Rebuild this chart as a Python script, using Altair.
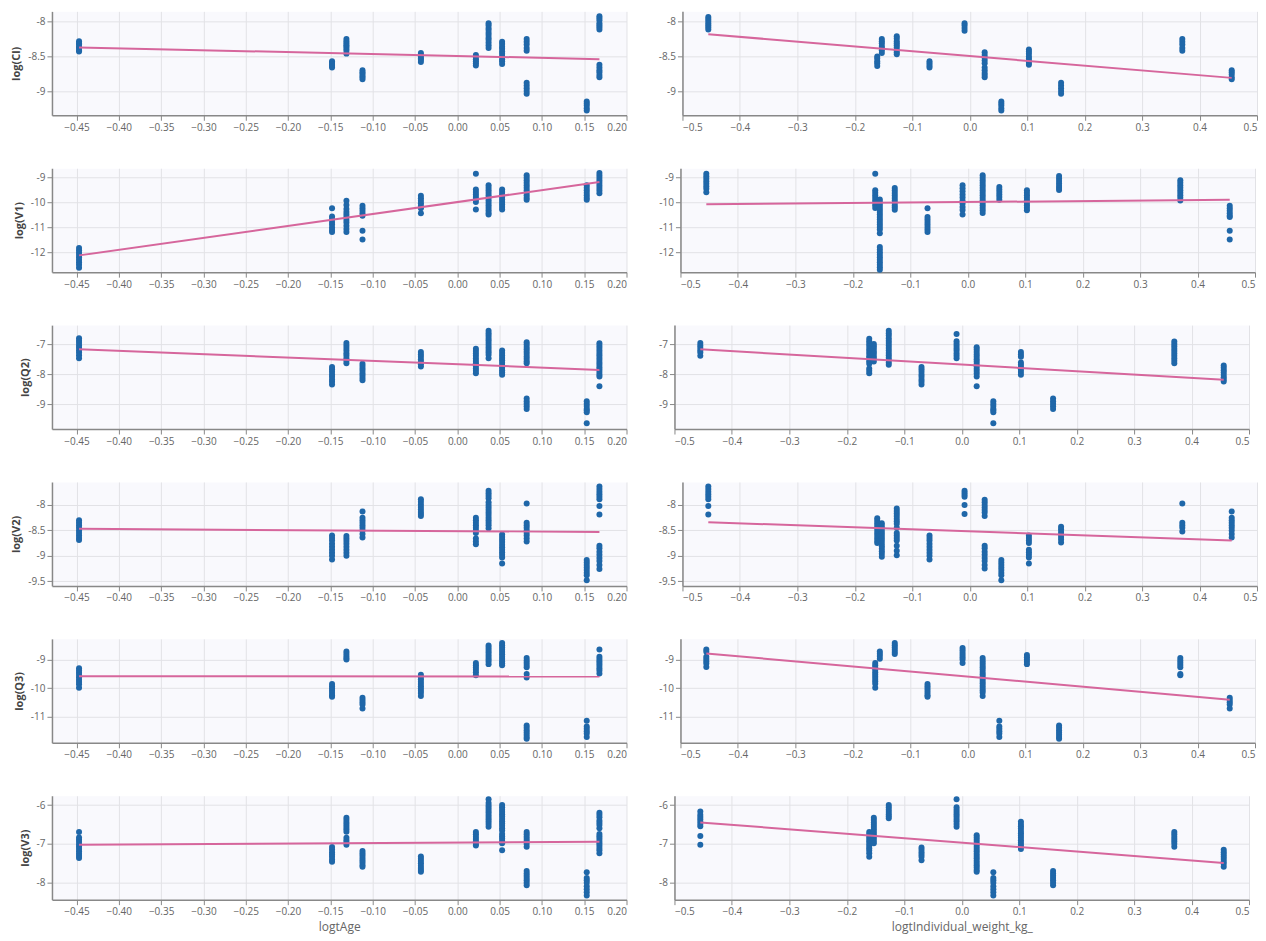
import altair as alt
import pandas as pd

# ---------------- axes ----------------
X_AGE_DOMAIN = [-0.479, 0.2]
X_WT_DOMAIN = [-0.5, 0.5]
X_AGE_TICKS = [-0.45, -0.40, -0.35, -0.30, -0.25, -0.20, -0.15, -0.10, -0.05, 0.0, 0.05, 0.10, 0.15, 0.20]
X_WT_TICKS = [-0.5, -0.4, -0.3, -0.2, -0.1, 0.0, 0.1, 0.2, 0.3, 0.4, 0.5]
X_TITLES = ["logtAge", "logtIndividual_weight_kg_"]

Y_TITLES = ["log(Cl)", "log(V1)", "log(Q2)", "log(V2)", "log(Q3)", "log(V3)"]
Y_DOMAINS = [[-9.35, -7.85], [-12.8, -8.65], [-9.83, -6.35], [-9.59, -7.55], [-11.9, -8.28], [-8.45, -5.76]]
Y_TICKS = [[-8, -8.5, -9], [-9, -10, -11, -12], [-7, -8, -9], [-8, -8.5, -9, -9.5], [-9, -10, -11], [-6, -7, -8]]

# ---------------- data: (x, [y values]) clusters ----------------
CL_AGE = [
    (-0.447, [-8.28, -8.31, -8.33, -8.36, -8.38, -8.41, -8.43]),
    (-0.148, [-8.57, -8.59, -8.62, -8.64, -8.66]),
    (-0.131, [-8.25, -8.28, -8.31, -8.34, -8.36, -8.39, -8.42, -8.46]),
    (-0.112, [-8.70, -8.73, -8.75, -8.78, -8.80, -8.83]),
    (-0.043, [-8.45, -8.48, -8.50, -8.53, -8.55, -8.58]),
    (0.022, [-8.48, -8.51, -8.54, -8.57, -8.60, -8.63]),
    (0.037, [-8.02, -8.05, -8.09, -8.12, -8.16, -8.19, -8.23, -8.26, -8.30, -8.34, -8.38]),
    (0.053, [-8.29, -8.32, -8.36, -8.39, -8.43, -8.46, -8.50, -8.54, -8.57, -8.61]),
    (0.082, [-8.25, -8.29, -8.33, -8.38, -8.42, -8.88, -8.92, -8.96, -9.00, -9.04]),
    (0.153, [-9.15, -9.18, -9.21, -9.25, -9.28]),
    (0.168, [-7.92, -7.95, -7.98, -8.02, -8.05, -8.08, -8.11, -8.62, -8.66, -8.70, -8.73, -8.77, -8.80]),
]
CL_WT = [
    (-0.455, [-7.93, -7.96, -7.99, -8.02, -8.05, -8.08, -8.11]),
    (-0.161, [-8.50, -8.53, -8.57, -8.60, -8.64]),
    (-0.153, [-8.25, -8.28, -8.31, -8.35, -8.38, -8.41, -8.45]),
    (-0.127, [-8.21, -8.24, -8.28, -8.31, -8.34, -8.37, -8.41, -8.44, -8.47]),
    (-0.070, [-8.57, -8.60, -8.63, -8.66]),
    (-0.009, [-8.02, -8.05, -8.09, -8.13]),
    (0.026, [-8.44, -8.48, -8.52, -8.56, -8.60, -8.66, -8.70, -8.74, -8.77, -8.80]),
    (0.055, [-9.15, -9.18, -9.21, -9.25, -9.28]),
    (0.103, [-8.40, -8.43, -8.46, -8.50, -8.53, -8.56, -8.59, -8.62]),
    (0.159, [-8.88, -8.92, -8.96, -9.00, -9.04]),
    (0.370, [-8.25, -8.29, -8.33, -8.38, -8.42]),
    (0.456, [-8.70, -8.73, -8.76, -8.80, -8.83]),
]
V1_AGE = [
    (-0.447, [-11.84, -11.93, -12.02, -12.11, -12.2, -12.3, -12.4, -12.5, -12.62]),
    (-0.148, [-10.25, -10.58, -10.68, -10.8, -10.9, -11.02, -11.12, -11.2]),
    (-0.131, [-9.95, -10.12, -10.28, -10.4, -10.5, -10.6, -10.72, -10.82, -10.95, -11.08, -11.2]),
    (-0.112, [-10.15, -10.25, -10.35, -10.45, -10.55, -11.15, -11.5]),
    (-0.043, [-9.75, -9.85, -9.95, -10.05, -10.15, -10.25, -10.45]),
    (0.022, [-8.87, -9.5, -9.6, -9.7, -9.8, -9.9, -10.0, -10.3]),
    (0.037, [-9.33, -9.43, -9.53, -9.63, -9.73, -9.83, -9.93, -10.03, -10.13, -10.23, -10.33, -10.43, -10.5]),
    (0.053, [-9.5, -9.6, -9.7, -9.8, -9.9, -10.0, -10.1, -10.2, -10.3]),
    (0.082, [-8.93, -9.03, -9.13, -9.23, -9.33, -9.43, -9.53, -9.63, -9.73, -9.83, -9.91]),
    (0.153, [-9.33, -9.43, -9.53, -9.63, -9.73, -9.83, -9.91]),
    (0.168, [-8.84, -8.94, -9.04, -9.14, -9.24, -9.34, -9.44, -9.54, -9.65]),
]
V1_WT = [
    (-0.455, [-8.87, -8.97, -9.07, -9.17, -9.27, -9.37, -9.47, -9.61]),
    (-0.161, [-8.87, -9.53, -9.63, -9.73, -9.83, -9.93, -10.03, -10.13, -10.24]),
    (-0.153, [-9.9, -10.0, -10.1, -10.2, -10.3, -10.4, -10.5, -10.6, -10.7, -10.8, -10.9, -11.0, -11.1, -11.25,
              -11.8, -11.9, -12.0, -12.1, -12.2, -12.3, -12.4, -12.5, -12.6, -12.7]),
    (-0.127, [-9.44, -9.54, -9.64, -9.74, -9.84, -9.94, -10.04, -10.14, -10.22, -10.31]),
    (-0.070, [-10.25, -10.6, -10.7, -10.8, -10.9, -11.0, -11.1, -11.2]),
    (-0.009, [-9.33, -9.45, -9.57, -9.7, -9.82, -9.95, -10.07, -10.2, -10.32, -10.5]),
    (0.026, [-8.93, -9.03, -9.13, -9.23, -9.33, -9.43, -9.53, -9.63, -9.73, -9.83, -9.93, -10.03, -10.13,
             -10.23, -10.33, -10.44]),
    (0.055, [-9.4, -9.5, -9.6, -9.7, -9.8, -9.91]),
    (0.103, [-9.53, -9.63, -9.73, -9.83, -9.93, -10.03, -10.13, -10.23, -10.33]),
    (0.159, [-8.96, -9.06, -9.16, -9.26, -9.36, -9.44, -9.52]),
    (0.370, [-9.13, -9.23, -9.33, -9.43, -9.53, -9.63, -9.73, -9.83, -9.94]),
    (0.456, [-10.15, -10.25, -10.35, -10.45, -10.55, -10.6, -11.15, -11.5]),
]
Q2_AGE = [
    (-0.447, [-6.79, -6.87, -6.95, -7.03, -7.11, -7.19, -7.27, -7.36, -7.46]),
    (-0.148, [-7.75, -7.83, -7.91, -8.0, -8.08, -8.17, -8.25, -8.34]),
    (-0.131, [-6.95, -7.03, -7.12, -7.2, -7.29, -7.37, -7.46, -7.54, -7.63]),
    (-0.112, [-7.64, -7.72, -7.8, -7.88, -7.96, -8.04, -8.12, -8.2]),
    (-0.043, [-7.25, -7.33, -7.41, -7.5, -7.58, -7.66, -7.74]),
    (0.022, [-7.14, -7.22, -7.3, -7.38, -7.47, -7.55, -7.63, -7.72, -7.8, -7.88, -7.96]),
    (0.037, [-6.54, -6.62, -6.7, -6.78, -6.86, -6.94, -7.02, -7.1, -7.18, -7.26, -7.34, -7.46]),
    (0.053, [-7.2, -7.28, -7.37, -7.45, -7.53, -7.61, -7.7, -7.78, -7.86, -7.94, -8.01]),
    (0.082, [-6.92, -7.0, -7.08, -7.16, -7.24, -7.32, -7.4, -7.48, -7.56, -7.63, -8.81, -8.9, -8.98, -9.07, -9.16]),
    (0.153, [-8.9, -8.98, -9.06, -9.15, -9.2, -9.27, -9.64]),
    (0.168, [-6.96, -7.04, -7.12, -7.2, -7.28, -7.36, -7.44, -7.52, -7.6, -7.68, -7.76, -7.84, -7.92, -8.0,
             -8.07, -8.4]),
]
Q2_WT = [
    (-0.455, [-6.95, -7.03, -7.11, -7.19, -7.27, -7.38]),
    (-0.161, [-6.81, -6.89, -6.97, -7.05, -7.14, -7.22, -7.3, -7.39, -7.47, -7.56, -7.64, -7.8, -7.88, -7.96]),
    (-0.153, [-6.98, -7.06, -7.14, -7.23, -7.31, -7.4, -7.48, -7.57]),
    (-0.127, [-6.54, -6.62, -6.7, -6.79, -6.87, -6.95, -7.03, -7.12, -7.2, -7.28, -7.36, -7.44, -7.52, -7.6, -7.68]),
    (-0.070, [-7.75, -7.83, -7.91, -8.0, -8.08, -8.17, -8.25, -8.34]),
    (-0.009, [-6.65, -6.89, -6.97, -7.05, -7.13, -7.21, -7.3, -7.38, -7.46]),
    (0.026, [-7.09, -7.17, -7.25, -7.33, -7.41, -7.49, -7.57, -7.65, -7.73, -7.81, -7.89, -7.97, -8.07, -8.4]),
    (0.055, [-8.9, -8.98, -9.06, -9.15, -9.2, -9.27, -9.64]),
    (0.103, [-7.25, -7.33, -7.41, -7.6, -7.68, -7.76, -7.84, -7.92, -8.01]),
    (0.159, [-8.81, -8.9, -8.98, -9.07, -9.16]),
    (0.370, [-6.9, -6.98, -7.06, -7.14, -7.22, -7.3, -7.38, -7.46, -7.54, -7.63]),
    (0.456, [-7.7, -7.78, -7.86, -7.94, -8.02, -8.1, -8.17, -8.24]),
]
V2_AGE = [
    (-0.447, [-8.30, -8.35, -8.40, -8.45, -8.50, -8.55, -8.60, -8.65, -8.69]),
    (-0.148, [-8.60, -8.65, -8.70, -8.76, -8.82, -8.88, -8.94, -9.0, -9.07]),
    (-0.131, [-8.61, -8.66, -8.71, -8.76, -8.82, -8.88, -8.94, -9.0]),
    (-0.112, [-8.13, -8.25, -8.30, -8.35, -8.40, -8.45, -8.50, -8.57, -8.64]),
    (-0.043, [-7.89, -7.94, -7.99, -8.04, -8.09, -8.14, -8.18, -8.22]),
    (0.022, [-8.25, -8.30, -8.35, -8.40, -8.45, -8.50, -8.55, -8.66, -8.72, -8.77]),
    (0.037, [-7.72, -7.77, -7.82, -7.87, -7.95, -8.0, -8.05, -8.1, -8.15, -8.2, -8.25, -8.3, -8.35, -8.4, -8.46]),
    (0.053, [-8.58, -8.63, -8.68, -8.73, -8.78, -8.83, -8.88, -8.93, -8.98, -9.03, -9.15]),
    (0.082, [-7.97, -8.35, -8.40, -8.45, -8.50, -8.55, -8.60, -8.66, -8.72]),
    (0.153, [-9.08, -9.13, -9.18, -9.23, -9.28, -9.33, -9.38, -9.48]),
    (0.168, [-7.64, -7.69, -7.74, -7.79, -7.84, -7.89, -8.02, -8.19, -8.8, -8.85, -8.92, -8.98, -9.04, -9.1,
             -9.18, -9.26]),
]
V2_WT = [
    (-0.455, [-7.64, -7.69, -7.74, -7.79, -7.84, -7.89, -8.02, -8.19]),
    (-0.161, [-8.26, -8.31, -8.36, -8.41, -8.46, -8.51, -8.56, -8.61, -8.66, -8.71, -8.75]),
    (-0.153, [-8.36, -8.41, -8.46, -8.51, -8.56, -8.61, -8.66, -8.71, -8.76, -8.81, -8.86, -8.91, -8.96, -9.02]),
    (-0.127, [-8.07, -8.12, -8.17, -8.22, -8.27, -8.32, -8.37, -8.45, -8.55, -8.6, -8.65, -8.7, -8.8, -8.9, -8.99]),
    (-0.070, [-8.60, -8.65, -8.70, -8.76, -8.82, -8.88, -8.94, -9.0, -9.07]),
    (-0.009, [-7.72, -7.76, -7.8, -7.84, -8.0, -8.18]),
    (0.026, [-7.9, -7.95, -8.0, -8.05, -8.1, -8.15, -8.22, -8.8, -8.85, -8.92, -8.98, -9.04, -9.1, -9.18, -9.25]),
    (0.055, [-9.08, -9.13, -9.18, -9.23, -9.28, -9.33, -9.38, -9.48]),
    (0.103, [-8.6, -8.65, -8.7, -8.75, -8.88, -8.93, -8.98, -9.03, -9.15]),
    (0.159, [-8.43, -8.48, -8.53, -8.58, -8.63, -8.68, -8.74]),
    (0.370, [-7.97, -8.35, -8.40, -8.45, -8.52]),
    (0.456, [-8.13, -8.25, -8.30, -8.35, -8.40, -8.45, -8.50, -8.57, -8.64]),
]
Q3_AGE = [
    (-0.447, [-9.3, -9.38, -9.46, -9.54, -9.62, -9.7, -9.78, -9.86, -9.98]),
    (-0.148, [-9.85, -9.93, -10.01, -10.09, -10.17, -10.24, -10.3]),
    (-0.131, [-8.72, -8.8, -8.88, -8.95, -9.0]),
    (-0.112, [-10.33, -10.41, -10.49, -10.57, -10.71]),
    (-0.043, [-9.53, -9.61, -9.69, -9.77, -9.85, -9.93, -10.01, -10.09, -10.17, -10.27]),
    (0.022, [-9.12, -9.2, -9.28, -9.36, -9.44, -9.55]),
    (0.037, [-8.51, -8.59, -8.67, -8.75, -8.83, -8.91, -8.99, -9.07, -9.16]),
    (0.053, [-8.42, -8.5, -8.58, -8.66, -8.74, -8.82, -8.9, -8.98, -9.06, -9.13, -9.2]),
    (0.082, [-8.95, -9.03, -9.11, -9.19, -9.27, -9.5, -9.63, -11.3, -11.38, -11.46, -11.54, -11.62, -11.7, -11.76]),
    (0.153, [-11.13, -11.33, -11.41, -11.5, -11.58, -11.7]),
    (0.168, [-8.65, -8.9, -8.98, -9.06, -9.14, -9.22, -9.3, -9.38, -9.49]),
]
Q3_WT = [
    (-0.455, [-8.65, -8.73, -8.9, -8.98, -9.06, -9.14, -9.26]),
    (-0.161, [-9.12, -9.2, -9.28, -9.36, -9.44, -9.52, -9.6, -9.68, -9.76, -9.84, -9.98]),
    (-0.153, [-8.72, -8.8, -8.88, -8.97]),
    (-0.127, [-8.42, -8.5, -8.58, -8.66, -8.74, -8.81]),
    (-0.070, [-9.85, -9.93, -10.01, -10.09, -10.17, -10.24, -10.3]),
    (-0.009, [-8.6, -8.68, -8.76, -8.84, -8.92, -9.0, -9.12]),
    (0.026, [-8.95, -9.03, -9.11, -9.19, -9.27, -9.35, -9.43, -9.51, -9.59, -9.67, -9.75, -9.83, -9.91, -9.99,
             -10.07, -10.15, -10.27]),
    (0.055, [-11.13, -11.33, -11.41, -11.5, -11.58, -11.7]),
    (0.103, [-8.84, -8.92, -9.0, -9.08, -9.16]),
    (0.159, [-11.3, -11.38, -11.46, -11.54, -11.62, -11.7, -11.76]),
    (0.370, [-8.95, -9.03, -9.11, -9.19, -9.27, -9.5, -9.55]),
    (0.456, [-10.33, -10.41, -10.49, -10.57, -10.71]),
]
V3_AGE = [
    (-0.447, [-6.7, -6.84, -6.9, -6.96, -7.02, -7.08, -7.14, -7.2, -7.26, -7.32, -7.37]),
    (-0.148, [-7.09, -7.15, -7.22, -7.28, -7.34, -7.41, -7.47]),
    (-0.131, [-6.33, -6.39, -6.45, -6.51, -6.57, -6.63, -6.69, -6.85, -6.91, -6.97, -7.03]),
    (-0.112, [-7.19, -7.25, -7.31, -7.37, -7.43, -7.49, -7.55, -7.6]),
    (-0.043, [-7.33, -7.39, -7.45, -7.51, -7.57, -7.63, -7.68, -7.73]),
    (0.022, [-6.7, -6.76, -6.82, -6.88, -6.94, -7.0, -7.05]),
    (0.037, [-5.85, -5.95, -6.01, -6.07, -6.13, -6.19, -6.25, -6.31, -6.37, -6.43, -6.49, -6.56]),
    (0.053, [-6.0, -6.06, -6.12, -6.18, -6.24, -6.3, -6.36, -6.42, -6.48, -6.54, -6.6, -6.66, -6.75, -6.81,
             -6.87, -6.93, -6.99, -7.17]),
    (0.082, [-6.7, -6.76, -6.82, -6.88, -6.94, -7.0, -7.08, -7.71, -7.77, -7.83, -7.89, -7.95, -8.01, -8.08]),
    (0.153, [-7.74, -7.89, -7.95, -8.01, -8.1, -8.18, -8.26, -8.34]),
    (0.168, [-6.2, -6.26, -6.32, -6.4, -6.46, -6.52, -6.6, -6.75, -6.81, -6.87, -6.93, -6.99, -7.05, -7.11,
             -7.17, -7.25]),
]
V3_WT = [
    (-0.455, [-6.17, -6.25, -6.31, -6.37, -6.43, -6.49, -6.55, -6.8, -7.03]),
    (-0.161, [-6.7, -6.76, -6.82, -6.88, -6.94, -7.0, -7.06, -7.12, -7.18, -7.25, -7.34]),
    (-0.153, [-6.33, -6.39, -6.45, -6.51, -6.57, -6.63, -6.69, -6.75, -6.81, -6.87, -6.93, -6.99]),
    (-0.127, [-6.0, -6.06, -6.12, -6.18, -6.24, -6.29, -6.34]),
    (-0.070, [-7.1, -7.16, -7.22, -7.28, -7.34, -7.43]),
    (-0.009, [-5.85, -6.06, -6.12, -6.18, -6.24, -6.3, -6.36, -6.42, -6.49, -6.56]),
    (0.026, [-6.78, -6.84, -6.9, -6.96, -7.02, -7.08, -7.14, -7.2, -7.26, -7.32, -7.38, -7.44, -7.5, -7.56,
             -7.62, -7.68, -7.73]),
    (0.055, [-7.74, -7.89, -7.95, -8.01, -8.1, -8.18, -8.26, -8.34]),
    (0.103, [-6.43, -6.49, -6.55, -6.61, -6.67, -6.73, -6.79, -6.85, -6.91, -6.97, -7.03, -7.09, -7.14]),
    (0.159, [-7.71, -7.77, -7.83, -7.89, -7.95, -8.01, -8.08]),
    (0.370, [-6.7, -6.76, -6.82, -6.88, -6.94, -7.0, -7.08]),
    (0.456, [-7.16, -7.22, -7.28, -7.34, -7.4, -7.46, -7.52, -7.6]),
]

# fitted regression line end points (x, y)
FIT_CL_AGE = [(-0.447, -8.37), (0.168, -8.54)]
FIT_CL_WT = [(-0.455, -8.18), (0.456, -8.81)]
FIT_V1_AGE = [(-0.447, -12.13), (0.168, -9.20)]
FIT_V1_WT = [(-0.455, -10.09), (0.456, -9.91)]
FIT_Q2_AGE = [(-0.447, -7.16), (0.168, -7.85)]
FIT_Q2_WT = [(-0.455, -7.16), (0.456, -8.18)]
FIT_V2_AGE = [(-0.447, -8.47), (0.168, -8.53)]
FIT_V2_WT = [(-0.455, -8.34), (0.456, -8.70)]
FIT_Q3_AGE = [(-0.447, -9.58), (0.168, -9.59)]
FIT_Q3_WT = [(-0.455, -8.79), (0.456, -10.40)]
FIT_V3_AGE = [(-0.447, -7.03), (0.168, -6.95)]
FIT_V3_WT = [(-0.455, -6.45), (0.456, -7.50)]

ROWS = [
    (CL_AGE, FIT_CL_AGE, CL_WT, FIT_CL_WT),
    (V1_AGE, FIT_V1_AGE, V1_WT, FIT_V1_WT),
    (Q2_AGE, FIT_Q2_AGE, Q2_WT, FIT_Q2_WT),
    (V2_AGE, FIT_V2_AGE, V2_WT, FIT_V2_WT),
    (Q3_AGE, FIT_Q3_AGE, Q3_WT, FIT_Q3_WT),
    (V3_AGE, FIT_V3_AGE, V3_WT, FIT_V3_WT),
]

POINT_COLOR = "#1f67a9"
LINE_COLOR = "#d6669c"
W, H = 575, 104


def panel(clusters, fit, xdom, xticks, xfmt, ydom, yticks, ytitle, xtitle):
    pts = pd.DataFrame([{"x": x, "y": y} for x, ys in clusters for y in ys])
    fdf = pd.DataFrame(fit, columns=["x", "y"])
    x_axis = alt.Axis(values=xticks, format=xfmt, titleFontWeight="normal", titleFontSize=12,
                      titleColor="#666", titlePadding=5)
    y_axis = alt.Axis(values=yticks, labelExpr="datum.value", titlePadding=6)
    xe = alt.X("x:Q", scale=alt.Scale(domain=xdom, nice=False, zero=False), axis=x_axis, title=xtitle)
    ye = alt.Y("y:Q", scale=alt.Scale(domain=ydom, nice=False, zero=False), axis=y_axis, title=ytitle)
    p = alt.Chart(pts).mark_circle(size=36, color=POINT_COLOR, opacity=1).encode(x=xe, y=ye)
    l = alt.Chart(fdf).mark_line(color=LINE_COLOR, strokeWidth=2).encode(x=xe, y=ye)
    return alt.layer(p, l).properties(width=W, height=H)


rows = []
for i, (ca, fa, cw, fw) in enumerate(ROWS):
    last = i == len(ROWS) - 1
    left = panel(ca, fa, X_AGE_DOMAIN, X_AGE_TICKS, ".2f", Y_DOMAINS[i], Y_TICKS[i], Y_TITLES[i],
                 X_TITLES[0] if last else None)
    right = panel(cw, fw, X_WT_DOMAIN, X_WT_TICKS, ".1f", Y_DOMAINS[i], Y_TICKS[i], None,
                  X_TITLES[1] if last else None)
    rows.append(alt.hconcat(left, right, spacing=30))

chart = alt.vconcat(*rows, spacing=34).configure_axis(
    labelFont="Open Sans", labelFontSize=10, labelColor="#666",
    titleFont="Open Sans", titleFontSize=11, titleColor="#444", titleFontWeight="bold",
    domainColor="#888", domainWidth=1.5, tickColor="#888", tickSize=5,
    gridColor="#e2e2e6", labelPadding=2,
).configure_view(fill="#f9f9fd", stroke="transparent").properties(
    padding={"left": 2, "top": 2, "right": 0, "bottom": 0})

chart.save("out.html", embed_options={"renderer": "svg", "actions": False})
